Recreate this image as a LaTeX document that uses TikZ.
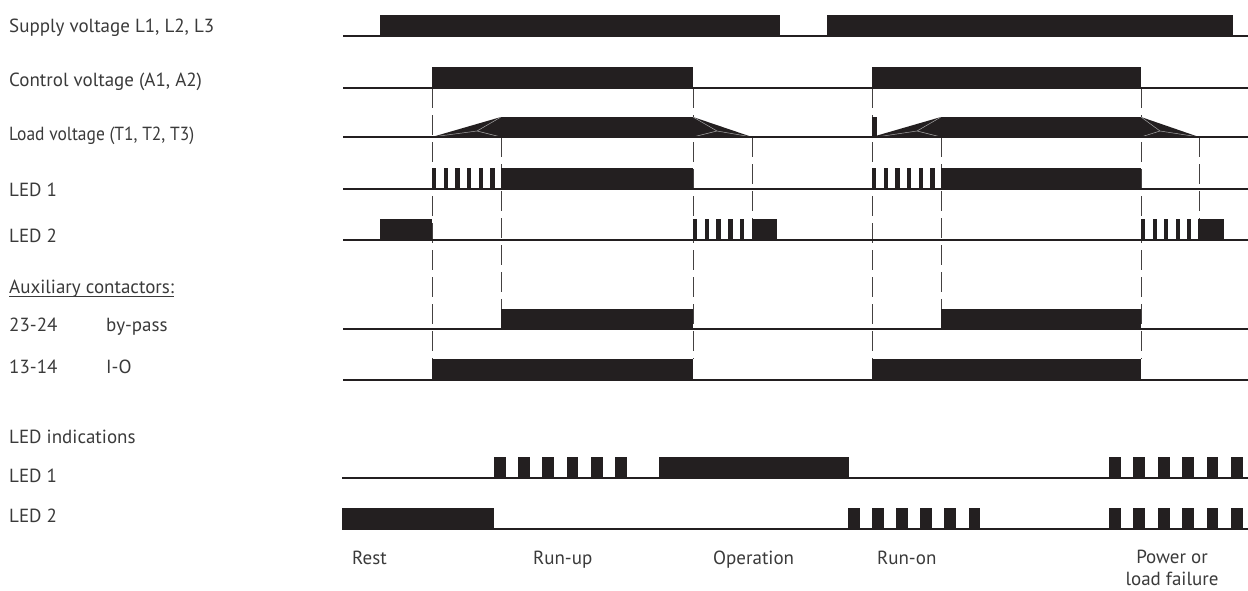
\documentclass[tikz,border=0pt]{standalone}
\usepackage{fontspec}
\setmainfont{PT Sans}
\definecolor{barc}{HTML}{231F20}
\definecolor{txtc}{HTML}{3A3A3A}
\begin{document}
\begin{tikzpicture}[x=1pt,y=-1pt,
  bar/.style={fill=barc, draw=none},
  baseln/.style={draw=barc, line width=1.1pt},
  vdash/.style={draw=barc!85, line width=1pt, dash pattern=on 20pt off 7pt},
  ramp/.style={draw=gray!70, line width=0.5pt},
  lbl/.style={anchor=base west, inner sep=0pt, font=\fontsize{19}{22}\selectfont, text=txtc},
  clbl/.style={anchor=base, inner sep=0pt, font=\fontsize{19}{22}\selectfont, text=txtc},
]
\useasboundingbox (0,0) rectangle (1248,590);

% dashed verticals
\draw[vdash] (432,88) -- (432,359);
\draw[vdash] (693,88) -- (693,359);
\draw[vdash] (501,137) -- (501,309);
\draw[vdash] (752,137) -- (752,219);
\draw[vdash] (872,88) -- (872,359);
\draw[vdash] (1141,88) -- (1141,359);
\draw[vdash] (941,137) -- (941,309);
\draw[vdash] (1199,137) -- (1199,219);

% row 1 supply
\fill[bar] (380,15) rectangle (780,36);
\fill[bar] (827,15) rectangle (1233,36);
% row 2 control
\fill[bar] (432,67) rectangle (693,88);
\fill[bar] (872,67) rectangle (1141,88);
% row 3 load
\fill[bar] (432,137) -- (501,117) -- (693,117) -- (752,137) -- cycle;
\fill[bar] (872,137) -- (941,117) -- (1141,117) -- (1199,137) -- cycle;
\fill[bar] (872,117) rectangle (876.5,137);
\draw[ramp] (432,137) -- (477,131) -- (501,117) (477,131) -- (501,137);
\draw[ramp] (693,117) -- (717,131) -- (752,137) (693,137) -- (717,131);
\draw[ramp] (876.5,137) -- (917,131) -- (941,117) (917,131) -- (941,137);
\draw[ramp] (1141,117) -- (1160,131) -- (1199,137) (1141,137) -- (1160,131);
% row 4 LED1
\foreach \i in {0,...,5} {
  \fill[bar] (432+\i*11.67,168) rectangle ++(4.3,21);
  \fill[bar] (872+\i*11.67,168) rectangle ++(4.3,21);
}
\fill[bar] (500.7,168) rectangle (693,189);
\fill[bar] (941,168) rectangle (1141,189);
% row 5 LED2
\fill[bar] (380,219) rectangle (432,240);
\foreach \i in {0,...,4} {
  \fill[bar] (693+\i*11.7,219) rectangle ++(4.4,21);
  \fill[bar] (1141+\i*11.5,219) rectangle ++(4.4,21);
}
\fill[bar] (752,219) rectangle (777,240);
\fill[bar] (1198,219) rectangle (1224,240);
% row 6 by-pass
\fill[bar] (501,309) rectangle (693,329);
\fill[bar] (941,309) rectangle (1141,329);
% row 7 I-O
\fill[bar] (432,359) rectangle (693,380);
\fill[bar] (872,359) rectangle (1141,380);
% row 8/9 LED indications
\foreach \i in {0,...,5} {
  \fill[bar] (494+\i*24.2,457) rectangle ++(11.7,21);
  \fill[bar] (1109+\i*24.4,457) rectangle ++(11.7,21);
  \fill[bar] (848+\i*24.1,508) rectangle ++(11.7,21);
  \fill[bar] (1109+\i*24.4,508) rectangle ++(11.7,21);
}
\fill[bar] (659,457) rectangle (849,478);
\fill[bar] (342,508) rectangle (494,529);

% baselines
\foreach \yy in {36,88,137,189,240,329,380} {
  \draw[baseln] (343,\yy) -- (1248,\yy);
}
\draw[baseln] (342,478) -- (1248,478);
\draw[baseln] (342,529) -- (1248,529);

% labels
\node[lbl] (lsup) at (9,32) {Supply voltage L1, L2, L3};
\node[lbl] (lctl) at (9,86) {Control voltage (A1, A2)};
\node[lbl, xscale=0.92] (lload) at (9,140) {Load voltage (T1, T2, T3)};
\node[lbl] (lled1) at (9,196) {LED 1};
\node[lbl] (lled2) at (9,242) {LED 2};
\node[lbl] (laux) at (9,293) {Auxiliary contactors:};
\draw[txtc, line width=0.8pt] ([yshift=-3pt]laux.base west) -- ([yshift=-3pt]laux.base east);
\node[lbl] (l2324) at (9,331) {23-24};
\node[lbl] (lbyp) at (106,331) {by-pass};
\node[lbl] (l1314) at (9,373) {13-14};
\node[lbl] (lio) at (106,373) {I-O};
\node[lbl] (lind) at (9,443) {LED indications};
\node[lbl] (lind1) at (9,482) {LED 1};
\node[lbl] (lind2) at (9,522) {LED 2};
\node[lbl] (trest) at (352,564) {Rest};
\node[lbl] (trunup) at (533,564) {Run-up};
\node[lbl] (top) at (713,564) {Operation};
\node[lbl] (truno) at (877,564) {Run-on};
\node[clbl] (tpow) at (1172,563) {Power or};
\node[clbl] (tload) at (1172,585) {load failure};
\end{tikzpicture}
\end{document}
